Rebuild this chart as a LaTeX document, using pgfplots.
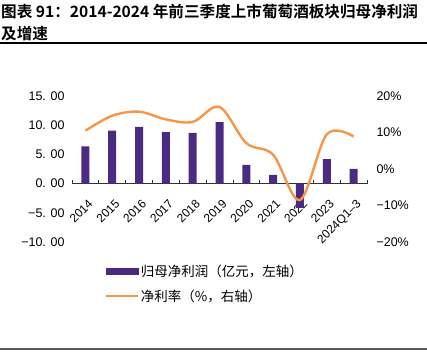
\documentclass[border=0pt]{standalone}
\usepackage{pgfplots}
\usepackage{pgfplotstable}
\pgfplotsset{compat=1.18}
\usepackage{fontspec}
\setmainfont{Liberation Sans}
\newfontfamily\cjk{Noto Sans CJK SC}
\newfontfamily\cjkb{Noto Sans CJK SC Bold}
\definecolor{barc}{RGB}{75,43,130}
\definecolor{linec}{RGB}{247,150,70}
\pgfplotstableread{
x y
0 6.36
1 9.05
2 9.73
3 8.82
4 8.70
5 10.53
6 3.19
7 1.48
8 -4.15
9 4.20
10 2.50
}\profit
\pgfplotstableread{
x y
0 10.5
1 14.6
2 15.7
3 13.6
4 12.9
5 17.0
6 7.1
7 3.9
8 -8.5
9 9.5
10 8.9
}\rate
\begin{document}
\begin{tikzpicture}[x=1pt,y=1pt]
\useasboundingbox (0,0) rectangle (427,352);
\node[anchor=north west, inner sep=0, align=left, font=\cjkb\fontsize{15.6}{22}\selectfont] at (1,348) {图表 91：2014-2024 年前三季度上市葡萄酒板块归母净利润\\及增速};
\draw[line width=1.2pt] (0,309) -- (427,309);
\draw[line width=1.6pt, black!65] (0,3) -- (427,3);
\begin{axis}[at={(72pt,110pt)}, anchor=south west, scale only axis,
  width=295pt, height=146pt,
  xmin=-0.5, xmax=10.5, ymin=-10, ymax=15,
  axis x line=middle, axis y line*=left,
  x axis line style={-, black!80, line width=1.2pt},
  y axis line style={draw=none},
  xtick={0,...,10},
  xticklabels={2014,2015,2016,2017,2018,2019,2020,2021,2022,2023,2024Q1–3},
  major x tick style={draw=none},
  ytick={-10,-5,0,5,10,15},
  yticklabels={−10. 00,−5. 00,0. 00,5. 00,10. 00,15. 00},
  major y tick style={draw=none},
  xticklabel style={rotate=45, anchor=north east, font=\fontsize{12}{12}\selectfont, inner sep=0.5pt, xshift=-7pt, yshift=-10pt},
  yticklabel style={font=\fontsize{12.5}{12.5}\selectfont, xshift=-4pt},
  clip=false]
\addplot[ybar, bar width=8pt, fill=barc, draw=none] table {\profit};
\pgfplotsinvokeforeach{-0.5,0.5,1.5,2.5,3.5,4.5,5.5,6.5,7.5,8.5,9.5,10.5}{
  \draw[black!80, line width=0.8pt] (axis cs:#1,0) -- (axis cs:#1,0.7);
}
\end{axis}
\begin{axis}[at={(72pt,110pt)}, anchor=south west, scale only axis,
  width=295pt, height=146pt,
  xmin=-0.5, xmax=10.5, ymin=-20, ymax=20,
  axis x line=none, axis y line*=right,
  y axis line style={draw=none},
  ytick={-20,-10,0,10,20},
  yticklabels={−20\%,−10\%,0\%,10\%,20\%},
  major y tick style={draw=none},
  yticklabel style={font=\fontsize{12.5}{12.5}\selectfont, xshift=6pt},
  legend style={at={(0.11,-0.14)}, anchor=north west, draw=none, fill=none,
    font=\cjk\fontsize{13.5}{13.5}\selectfont, row sep=8pt, inner sep=0pt},
  legend cell align=left,
  clip=false]
\addlegendimage{legend image code/.code={\fill[barc] (0pt,-3pt) rectangle (32pt,3pt);}}
\addlegendentry{归母净利润（亿元，左轴）}
\addplot[linec, line width=2.4pt, smooth, tension=0.55, no markers,
  legend image code/.code={\draw[linec, line width=2.2pt] (0pt,0pt) -- (32pt,0pt);}] table {\rate};
\addlegendentry{净利率（\%，右轴）}
\end{axis}
\end{tikzpicture}
\end{document}
